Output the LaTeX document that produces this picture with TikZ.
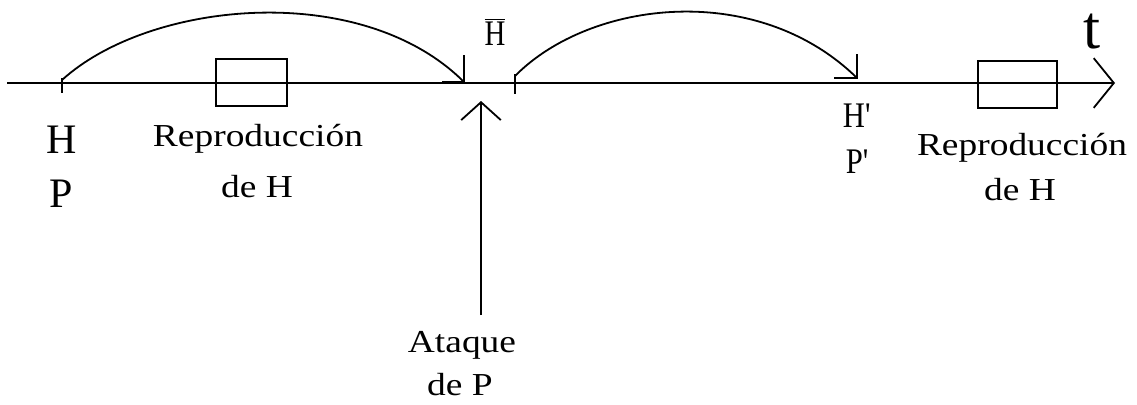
\documentclass[tikz,border=0pt]{standalone}
\usepackage{fontspec}
\newfontfamily\ts{Liberation Serif}
\usetikzlibrary{arrows.meta}
\begin{document}
\begin{tikzpicture}[x=0.75pt,y=-0.75pt,line width=1.35pt,
  lbl/.style={inner sep=0pt,anchor=base,font=\ts\fontsize{24}{28}\selectfont},
  big/.style={inner sep=0pt,anchor=base,font=\ts\fontsize{31.5}{36}\selectfont},
  boxn/.style={draw,inner sep=0pt,minimum height=35.25pt},
  barb/.style={line join=miter},
  ]
\useasboundingbox (0,0) rectangle (1137,404);
% axis
\coordinate (axL) at (7,83);
\coordinate (axR) at (1115,83);
\draw[-{Straight Barb[angle=102:24pt]}] (axL) -- (axR);
% ticks
\coordinate (t1a) at (62,78); \coordinate (t1b) at (62,93);
\coordinate (t2a) at (515,74); \coordinate (t2b) at (515,94);
\draw (t1a) -- (t1b);
\draw (t2a) -- (t2b);
% arcs
\coordinate (a1s) at (62,80); \coordinate (a1e) at (464,82);
\coordinate (a2s) at (515,76); \coordinate (a2e) at (857,78);
\draw (a1s) .. controls (150,0) and (362,-20) .. (a1e);
\draw (a2s) .. controls (590,0) and (757,-20) .. (a2e);
% arc arrowheads (right-angle barbs)
\draw[barb] (a1e) ++(0,-27) -- (a1e) -- ++(-22,0);
\draw[barb] (a2e) ++(0,-24) -- (a2e) -- ++(-23,0);
% boxes
\node[boxn,minimum width=53.25pt] (box1) at (251.5,82.5) {};
\node[boxn,minimum width=59.25pt] (box2) at (1017.5,84.5) {};
% vertical arrow
\coordinate (vb) at (481,315);
\coordinate (vt) at (481,101);
\draw[-{Straight Barb[angle=96:20pt]}] (vb) -- (vt);
% labels
\node[big] (H) at (62,153) {H};
\node[big] (P) at (61,207) {P};
\node[lbl] (rep1) at (258,146) {\scalebox{1.17}[1]{Reproducción}};
\node[lbl] (deH1) at (257,197) {\scalebox{1.17}[1]{de H}};
\node[lbl] (rep2) at (1022,155) {\scalebox{1.17}[1]{Reproducción}};
\node[lbl] (deH2) at (1020,200) {\scalebox{1.17}[1]{de H}};
\node[lbl,font=\ts\fontsize{27}{30}\selectfont] (Hbar) at (495,45) {\scalebox{0.8}[1]{$\overline{\mbox{H}}$}};
\node[lbl,anchor=base west,font=\ts\fontsize{27}{30}\selectfont] (Hp) at (842,127) {\scalebox{0.85}[1]{H'}};
\node[lbl,anchor=base west,font=\ts\fontsize{27}{30}\selectfont] (Pp) at (845,173) {\scalebox{0.85}[1]{P'}};
\node[lbl,font=\ts\fontsize{46}{50}\selectfont] (t) at (1092,48) {t};
\node[lbl] (at) at (462,352) {\scalebox{1.17}[1]{Ataque}};
\node[lbl] (deP) at (460,395) {\scalebox{1.17}[1]{de P}};
\end{tikzpicture}
\end{document}
